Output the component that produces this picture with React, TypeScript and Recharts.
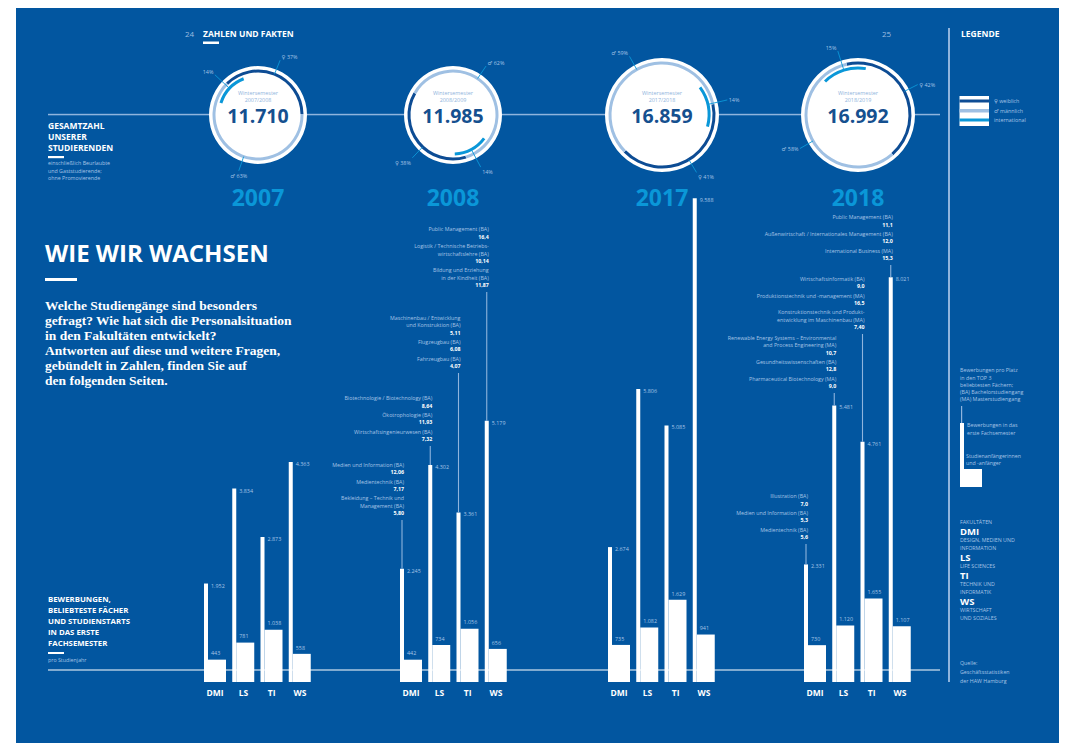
import React from 'react'
import { BarChart, Bar, XAxis, YAxis, LabelList, PieChart, Pie, Cell } from 'recharts'

const FONT = '"Open Sans", "DejaVu Sans", sans-serif'
const SERIF = '"Liberation Serif", serif'
const BG = '#0256a0'
const PALE = '#a6c4e6'
const LINE = '#8fb4dd'
const CYAN = '#0a97d8'
const DARK = '#0d4c94'
const LIGHT = '#9fc0e3'
const NUM = '#15508f'

// ---- data ----
const faculties = ['DMI', 'LS', 'TI', 'WS']
const years = ['2007', '2008', '2017', '2018']

const bewerbungen2007 = [1952, 3834, 2873, 4363]
const anfaenger2007 = [443, 781, 1038, 558]
const bewerbungen2008 = [2245, 4302, 3361, 5179]
const anfaenger2008 = [442, 734, 1056, 656]
const bewerbungen2017 = [2674, 5806, 5085, 9588]
const anfaenger2017 = [735, 1082, 1629, 941]
const bewerbungen2018 = [2331, 5481, 4761, 8021]
const anfaenger2018 = [730, 1120, 1655, 1107]

const semester = ['2007/2008', '2008/2009', '2017/2018', '2018/2019']
const studierende = [11710, 11985, 16859, 16992]
const weiblich = [37, 38, 41, 42]
const maennlich = [63, 62, 59, 58]
const international = [14, 14, 14, 15]

type Top = [string, string][]
const top2008: Record<string, Top> = {
  DMI: [['Medien und Information (BA)', '12,06'], ['Medientechnik (BA)', '7,17'], ['Bekleidung – Technik und|Management (BA)', '5,80']],
  LS: [['Biotechnologie / Biotechnology (BA)', '8,64'], ['Ökotrophologie (BA)', '11,93'], ['Wirtschaftsingenieurwesen (BA)', '7,32']],
  TI: [['Maschinenbau / Entwicklung|und Konstruktion (BA)', '5,11'], ['Flugzeugbau (BA)', '6,08'], ['Fahrzeugbau (BA)', '4,07']],
  WS: [['Public Management (BA)', '16,4'], ['Logistik / Technische Betriebs-|wirtschaftslehre (BA)', '10,14'], ['Bildung und Erziehung|in der Kindheit (BA)', '11,87']],
}
const top2018: Record<string, Top> = {
  DMI: [['Illustration (BA)', '7,0'], ['Medien und Information (BA)', '5,3'], ['Medientechnik (BA)', '5,6']],
  LS: [['Renewable Energy Systems – Environmental|and Process Engineering (MA)', '10,7'], ['Gesundheitswissenschaften (BA)', '12,8'], ['Pharmaceutical Biotechnology (MA)', '9,0']],
  TI: [['Wirtschaftsinformatik (BA)', '9,0'], ['Produktionstechnik und -management (MA)', '16,5'], ['Konstruktionstechnik und Produkt-|entwicklung im Maschinenbau (MA)', '7,40']],
  WS: [['Public Management (BA)', '11,1'], ['Außenwirtschaft / Internationales Management (BA)', '12,0'], ['International Business (MA)', '15,3']],
}

// ---- layout ----
const CHART_TOP = 170
const plotLeft = [201, 397, 605, 801]
const noteTop: Record<string, number> = {
  '2008-DMI': 520, '2008-LS': 446, '2008-TI': 373, '2008-WS': 292,
  '2018-DMI': 544, '2018-LS': 393, '2018-TI': 334, '2018-WS': 265,
}
// angles clockwise from 12 o'clock; labels: [weiblich, maennlich, international]
const rings = [
  { cx: 258, cy: 115, r: 49, dark: -44.6, intl: -72, lab: [[22, 'start'], [199, 'middle'], [-47, 'end']] },
  { cx: 453, cy: 115, r: 49, dark: 163, intl: 127, lab: [[223.5, 'end'], [34, 'start'], [152, 'start']] },
  { cx: 662, cy: 115, r: 57, dark: 78, intl: 54, lab: [[149, 'start'], [-29, 'end'], [77, 'start']] },
  { cx: 858, cy: 115, r: 57, dark: -12.5, intl: -44.5, lab: [[63, 'start'], [240, 'end'], [-17.5, 'end']] },
]

const fmt = (v: number) => String(v).replace(/\B(?=(\d{3})+(?!\d))/g, '.')

const rowsFor = (b: number[], a: number[]) =>
  faculties.map((f, i) => ({ faculty: f, bewerbungen: b[i], anfaenger: a[i] }))

const yearRows = [
  rowsFor(bewerbungen2007, anfaenger2007),
  rowsFor(bewerbungen2008, anfaenger2008),
  rowsFor(bewerbungen2017, anfaenger2017),
  rowsFor(bewerbungen2018, anfaenger2018),
]
const yearTops: (Record<string, Top> | null)[] = [null, top2008, null, top2018]

function ThinLabel(p: any) {
  const x = Number(p.x), y = Number(p.y), w = Number(p.width)
  return (
    <text x={x + w + 3} y={y + 4} fontSize={5.4} fill={PALE} fontFamily={FONT}>{fmt(Number(p.value))}</text>
  )
}

function WideLabel(p: any) {
  const x = Number(p.x), y = Number(p.y)
  return (
    <text x={x + 3} y={y - 4.3} fontSize={5.4} fill={PALE} fontFamily={FONT}>{fmt(Number(p.value))}</text>
  )
}

function Note({ p, year, tops }: { p: any; year: string; tops: Record<string, Top> | null }) {
  if (!tops) return null
  const items = tops[p.value]
  const key = `${year}-${p.value}`
  if (!items || noteTop[key] == null) return null
  const x = Number(p.x), y = Number(p.y), w = Number(p.width)
  const topY = noteTop[key] - CHART_TOP
  const lines: { t: string; bold: boolean; y: number }[] = []
  let cy = topY - 7
  for (let k = items.length - 1; k >= 0; k--) {
    const [name, val] = items[k]
    lines.push({ t: val, bold: true, y: cy })
    const parts = name.split('|')
    let ny = cy - 7.2
    for (let j = parts.length - 1; j >= 0; j--) {
      lines.push({ t: parts[j], bold: false, y: ny })
      ny -= 7.5
    }
    cy = ny + 7.5 - 9.5
  }
  return (
    <g>
      <line x1={x + w / 2} x2={x + w / 2} y1={topY} y2={y} stroke={LINE} strokeWidth={1.1} />
      {lines.map((l, i) => (
        <text key={i} x={x + w} y={l.y + 1.9} textAnchor="end" fontSize={5.3} fontFamily={FONT}
          fontWeight={l.bold ? 700 : 400} fill={l.bold ? '#fff' : PALE}>{l.t}</text>
      ))}
    </g>
  )
}

function YearChart({ idx }: { idx: number }) {
  const ML = 170
  const year = years[idx]
  return (
    <div style={{ position: 'absolute', left: plotLeft[idx] - ML, top: CHART_TOP }}>
      <BarChart width={ML + 113 + 20} height={532} data={yearRows[idx]}
        margin={{ top: 7.5, right: 20, bottom: 0, left: ML }} barGap={0} barCategoryGap={0}>
        <XAxis dataKey="faculty" axisLine={false} tickLine={false} height={20} interval={0}
          tick={{ fill: '#fff', fontSize: 8.5, fontWeight: 700, fontFamily: FONT }} />
        <YAxis hide width={0} domain={[0, 10000]} />
        <Bar dataKey="bewerbungen" barSize={4} fill="#fff" isAnimationActive={false}>
          <LabelList dataKey="bewerbungen" content={ThinLabel} />
          <LabelList dataKey="faculty" content={(p: any) => <Note p={p} year={year} tops={yearTops[idx]} />} />
        </Bar>
        <Bar dataKey="anfaenger" barSize={18} fill="#fff" isAnimationActive={false}>
          <LabelList dataKey="anfaenger" content={WideLabel} />
        </Bar>
      </BarChart>
    </div>
  )
}

function Ring({ i }: { i: number }) {
  const L = rings[i]
  const W = 200, H = 170
  const gender = [{ name: '♀', value: weiblich[i] }, { name: '♂', value: maennlich[i] }]
  const intl = [{ name: '', value: international[i] }, { name: 'rest', value: 100 - international[i] }]
  const gs = 90 - L.dark
  const is = 90 - L.intl
  const renderLabel = (kind: number) => (p: any) => {
    const idx = kind === 2 ? 2 : p.index
    if (kind === 2 && p.index !== 0) return null
    const [ang, anchor] = L.lab[idx] as [number, string]
    const rad = (ang * Math.PI) / 180
    const r1 = kind === 2 ? L.r - 10 : L.r - 5
    const r2 = L.r + 10
    const cx = W / 2, cy = H / 2
    const x1 = cx + r1 * Math.sin(rad), y1 = cy - r1 * Math.cos(rad)
    const x2 = cx + r2 * Math.sin(rad), y2 = cy - r2 * Math.cos(rad)
    const c = Math.cos(rad)
    const ty = c > 0.5 ? y2 - 3 : c < -0.6 ? y2 + 5 : y2
    const tx = anchor === 'start' ? x2 + 1.5 : anchor === 'end' ? x2 - 1.5 : x2
    const label = kind === 2 ? `${international[i]}%` : `${p.name} ${p.value}%`
    return (
      <g>
        <line x1={x1} y1={y1} x2={x2} y2={y2} stroke={CYAN} strokeWidth={0.9} />
        <text x={tx} y={ty + 2} textAnchor={anchor as any} fontSize={5.4} fill={PALE} fontFamily={FONT}>{label}</text>
      </g>
    )
  }
  return (
    <div style={{ position: 'absolute', left: L.cx - W / 2, top: L.cy - H / 2 }}>
      <PieChart width={W} height={H} margin={{ top: 0, right: 0, bottom: 0, left: 0 }}>
        <Pie data={[{ v: 1 }]} dataKey="v" cx={W / 2} cy={H / 2} innerRadius={0} outerRadius={L.r}
          fill="#fff" stroke="none" isAnimationActive={false} />
        <Pie data={gender} dataKey="value" cx={W / 2} cy={H / 2} startAngle={gs} endAngle={gs - 360}
          innerRadius={L.r - 6.5} outerRadius={L.r - 3.5} stroke="none" label={renderLabel(0)} labelLine={false}
          isAnimationActive={false}>
          <Cell fill={DARK} />
          <Cell fill={LIGHT} />
        </Pie>
        <Pie data={intl} dataKey="value" cx={W / 2} cy={H / 2} startAngle={is} endAngle={is - 360}
          innerRadius={L.r - 11.5} outerRadius={L.r - 8.5} stroke="none" label={renderLabel(2)} labelLine={false}
          isAnimationActive={false}>
          <Cell fill={CYAN} />
          <Cell fill="none" />
        </Pie>
      </PieChart>
    </div>
  )
}

const T = (props: any) => <text fontFamily={FONT} {...props} />

export default function App() {
  const palePara = (x: number, ys: number[], lines: string[], extra: any = {}) =>
    lines.map((t, k) => <T key={t + k} x={x} y={ys[k]} fontSize={5.3} fill={PALE} {...extra}>{t}</T>)

  return (
    <div style={{ position: 'absolute', left: 0, top: 0, width: 1068, height: 743, background: '#fff', overflow: 'hidden' }}>
      <div style={{ position: 'absolute', left: 16, top: 8, width: 1043, height: 735, background: BG }} />
      <svg width={1068} height={743} style={{ position: 'absolute', left: 0, top: 0 }}>
        {/* header */}
        <T x={185} y={36.5} fontSize={8} fill="#9dbde0">24</T>
        <T x={203} y={36.5} fontSize={8.5} fontWeight={700} fill="#fff">ZAHLEN UND FAKTEN</T>
        <rect x={203} y={41.5} width={16} height={2.5} fill="#fff" />
        <T x={882} y={36.5} fontSize={8} fill="#9dbde0">25</T>
        <T x={961} y={36.5} fontSize={8.5} fontWeight={700} fill="#fff">LEGENDE</T>
        <rect x={948} y={28} width={2} height={654} fill={LINE} />

        {/* total students */}
        <rect x={48} y={113.8} width={892} height={1.5} fill={LINE} />
        {['GESAMTZAHL', 'UNSERER', 'STUDIERENDEN'].map((t, k) => (
          <T key={t} x={48} y={128.5 + k * 11} fontSize={8.5} fontWeight={700} fill="#fff">{t}</T>
        ))}
        <rect x={48} y={156} width={16} height={2.2} fill="#fff" />
        {palePara(48, [165, 172.5, 180], ['einschließlich Beurlaubte', 'und Gaststudierende;', 'ohne Promovierende'])}

        {/* legend rings */}
        <rect x={959.5} y={96} width={29.5} height={30} fill="#fff" />
        <rect x={959.5} y={99.5} width={29.5} height={3} fill={DARK} />
        <rect x={959.5} y={109} width={29.5} height={3.5} fill={LIGHT} />
        <rect x={959.5} y={118.5} width={29.5} height={3} fill={CYAN} />
        {palePara(994, [103, 112.5, 122], ['♀ weiblich', '♂ männlich', 'international'])}

        {/* headline */}
        <T x={45} y={261.5} fontSize={24} fontWeight={700} fill="#fff">WIE WIR WACHSEN</T>
        <rect x={45} y={278} width={32} height={3} fill="#fff" />
        {['Welche Studiengänge sind besonders', 'gefragt? Wie hat sich die Personalsituation', 'in den Fakultäten entwickelt?',
          'Antworten auf diese und weitere Fragen,', 'gebündelt in Zahlen, finden Sie auf', 'den folgenden Seiten.'].map((t, k) => (
          <text key={t} x={45} y={310 + k * 15} fontFamily={SERIF} fontSize={13.5} fontWeight={700} fill="#fff">{t}</text>
        ))}

        {/* bars caption */}
        {['BEWERBUNGEN,', 'BELIEBTESTE FÄCHER', 'UND STUDIENSTARTS', 'IN DAS ERSTE', 'FACHSEMESTER'].map((t, k) => (
          <T key={t} x={48} y={602 + k * 10.9} fontSize={7.8} fontWeight={700} fill="#fff">{t}</T>
        ))}
        <rect x={48} y={652} width={16} height={2} fill="#fff" />
        {palePara(48, [661.5], ['pro Studienjahr'])}
        <rect x={48} y={669.5} width={892} height={1} fill="#fff" />

        {/* right legend */}
        {palePara(960, [372.3, 379.5, 386.5, 394, 401.3], ['Bewerbungen pro Platz', 'in den TOP 3', 'beliebtesten Fächern;',
          '(BA) Bachelorstudiengang', '(MA) Masterstudiengang'])}
        <rect x={961} y={406} width={1.2} height={17} fill={LINE} />
        <rect x={960} y={423} width={4} height={64} fill="#fff" />
        <rect x={960} y={469} width={22} height={18} fill="#fff" />
        {palePara(967, [427, 435], ['Bewerbungen in das', 'erste Fachsemester'])}
        {palePara(966, [458, 465], ['Studienanfängerinnen', 'und -anfänger'])}
        {palePara(960, [524], ['FAKULTÄTEN'])}
        {[['DMI', 535, ['DESIGN, MEDIEN UND', 'INFORMATION']], ['LS', 561, ['LIFE SCIENCES']],
          ['TI', 579, ['TECHNIK UND', 'INFORMATIK']], ['WS', 605, ['WIRTSCHAFT', 'UND SOZIALES']]].map(([f, y, sub]: any) => (
          <g key={f}>
            <T x={960} y={y} fontSize={9.5} fontWeight={700} fill="#fff">{f}</T>
            {palePara(960, [y + 7, y + 14.7], sub)}
          </g>
        ))}
        {palePara(960, [665, 673.7, 682.7], ['Quelle:', 'Geschäftsstatistiken', 'der HAW Hamburg'])}
      </svg>

      {years.map((y, i) => <YearChart key={y} idx={i} />)}
      {years.map((y, i) => <Ring key={y} i={i} />)}

      <svg width={1068} height={743} style={{ position: 'absolute', left: 0, top: 0, pointerEvents: 'none' }}>
        {rings.map((L, i) => (
          <g key={i}>
            <T x={L.cx} y={94.5} fontSize={5.4} fill="#8fb4dc" textAnchor="middle">Wintersemester</T>
            <T x={L.cx} y={102.3} fontSize={5.4} fill="#8fb4dc" textAnchor="middle">{semester[i]}</T>
            <T x={L.cx} y={123.3} fontSize={19.5} fontWeight={700} fill={NUM} textAnchor="middle">{fmt(studierende[i])}</T>
            <T x={L.cx} y={206.2} fontSize={23} fontWeight={700} fill={CYAN} textAnchor="middle">{years[i]}</T>
          </g>
        ))}
      </svg>
    </div>
  )
}
